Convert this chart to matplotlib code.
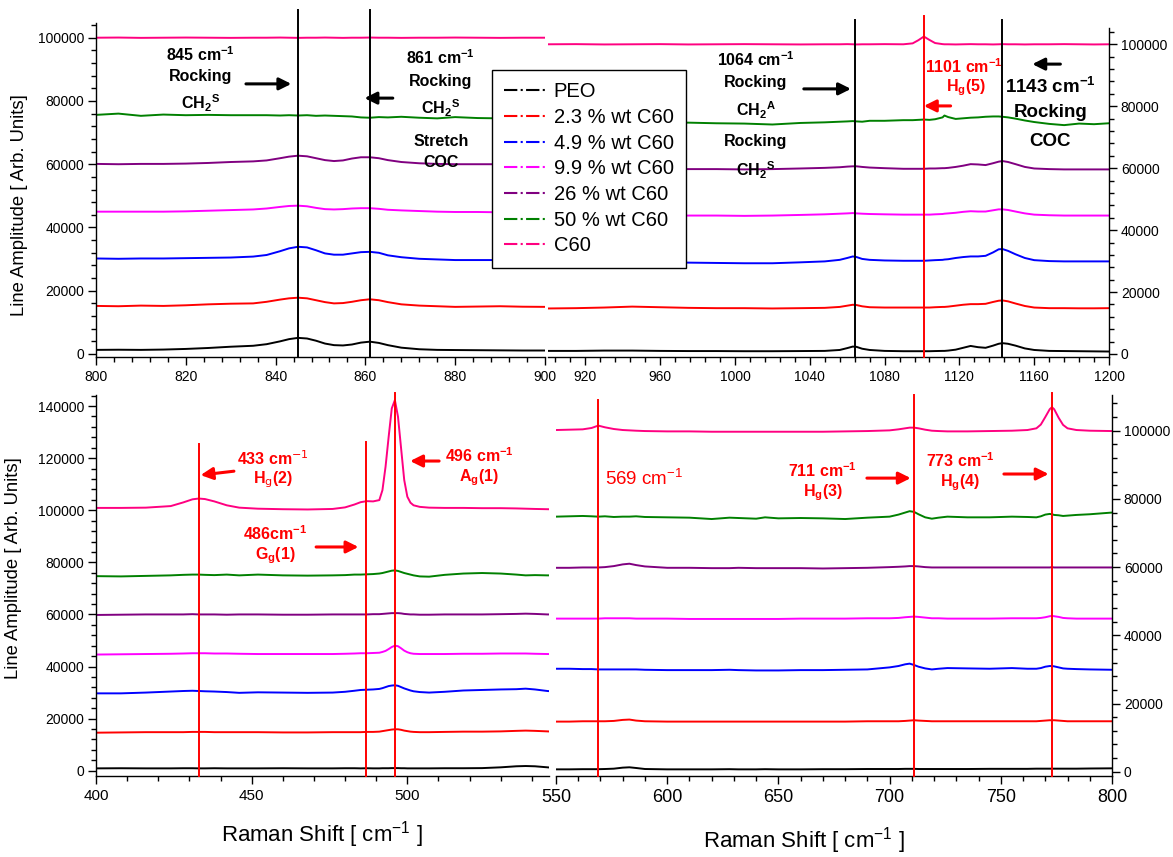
import matplotlib
matplotlib.use('Agg')
import matplotlib.pyplot as plt
from matplotlib.lines import Line2D
from matplotlib.ticker import MultipleLocator

plt.rcParams['font.family'] = ['Liberation Sans', 'DejaVu Sans']
plt.rcParams['mathtext.fontset'] = 'custom'
plt.rcParams['mathtext.rm'] = 'Liberation Sans'
plt.rcParams['mathtext.it'] = 'Liberation Sans:italic'
plt.rcParams['mathtext.bf'] = 'Liberation Sans:bold'

samples = ['PEO', '2.3 % wt C60', '4.9 % wt C60', '9.9 % wt C60',
           '26 % wt C60', '50 % wt C60', 'C60']
colors = ['#000000', '#FF0000', '#0000FF', '#FF00FF',
          '#800080', '#008000', '#FF0080']

# 800 - 900 cm-1 window
shift_a = [800, 805, 810, 815, 820, 825, 830, 835, 838, 841, 843, 845, 847, 849, 851,
           853, 855, 857, 859, 861, 863, 865, 868, 872, 876, 880, 885, 890, 895, 900]
amp_a = [
    [1300, 1350, 1300, 1400, 1600, 1900, 2300, 2600, 3100, 4000, 4700, 5100, 4900, 4200, 3300,
     2800, 2700, 3000, 3600, 3900, 3500, 2800, 2000, 1500, 1300, 1250, 1200, 1150, 1100, 1100],
    [15200, 15100, 15300, 15200, 15400, 15700, 15900, 16000, 16500, 17200, 17600, 17800, 17600, 17000, 16400,
     16000, 16100, 16500, 17000, 17300, 17000, 16400, 15700, 15300, 15100, 14900, 15000, 15100, 14950, 14900],
    [30200, 30100, 30200, 30200, 30300, 30400, 30500, 30800, 31300, 32500, 33400, 33900, 33700, 32800, 31800,
     31400, 31400, 31800, 32200, 32300, 32000, 31200, 30600, 30100, 29900, 29700, 29700, 29700, 29700, 29700],
    [45000, 45000, 45000, 45000, 45100, 45300, 45500, 45700, 46000, 46500, 46800, 46900, 46700, 46200, 45800,
     45700, 45800, 46000, 46100, 46100, 45900, 45600, 45400, 45200, 45000, 44900, 44900, 44800, 44800, 44800],
    [60100, 60000, 60100, 60100, 60200, 60400, 60700, 60900, 61200, 61900, 62400, 62700, 62500, 61900, 61300,
     61000, 61200, 61800, 62200, 62200, 61900, 61300, 60700, 60300, 60100, 60000, 60000, 60000, 60000, 60000],
    [75600, 76000, 75300, 75700, 75500, 75600, 75500, 75500, 75500, 75400, 75500, 75400, 75500, 75300, 75400,
     75300, 75200, 75100, 74800, 74700, 74900, 74800, 75000, 74700, 74500, 74900, 74600, 74500, 74700, 74600],
    [100000, 100050, 99950, 100000, 100050, 100000, 99950, 100000, 100000, 100050, 100000, 99950, 100000, 100000, 100050,
     100000, 99950, 100000, 100000, 100050, 100000, 100000, 99950, 100000, 100000, 100050, 100000, 99950, 100000, 100000],
]

# 900 - 1200 cm-1 window
shift_b = [900, 915, 930, 945, 960, 975, 990, 1005, 1020, 1035, 1048, 1056, 1060, 1063, 1065,
           1068, 1072, 1080, 1090, 1095, 1098, 1101, 1104, 1107, 1111, 1112, 1114, 1118, 1122, 1126,
           1130, 1134, 1138, 1141, 1143, 1146, 1150, 1155, 1160, 1168, 1176, 1184, 1192, 1200]
amp_b = [
    [1000, 1000, 1100, 1100, 1000, 950, 950, 900, 900, 950, 1000, 1300, 1900, 2400, 2300,
     1700, 1300, 1000, 900, 900, 900, 900, 900, 950, 1000, 1000, 1100, 1400, 2000, 2600,
     2200, 2000, 2700, 3300, 3500, 3300, 2700, 1800, 1300, 1000, 950, 900, 850, 800],
    [14700, 14800, 15000, 15300, 15100, 14900, 14800, 14800, 14700, 14800, 14900, 15200, 15600, 15900, 15800,
     15400, 15100, 15000, 15000, 15000, 15000, 15000, 15000, 15100, 15200, 15200, 15300, 15600, 15900, 16100,
     16100, 16200, 16800, 17200, 17300, 17000, 16300, 15500, 15000, 14800, 14800, 14750, 14750, 14800],
    [29900, 29900, 29800, 29700, 29600, 29500, 29400, 29300, 29300, 29600, 29900, 30400, 31000, 31500, 31300,
     30700, 30400, 30200, 30100, 30100, 30100, 30100, 30200, 30300, 30400, 30500, 30600, 31000, 31300, 31500,
     31500, 31700, 32800, 33800, 33900, 33300, 32200, 31000, 30300, 30000, 29900, 29900, 29900, 29900],
    [45000, 45000, 44900, 44800, 44700, 44700, 44700, 44600, 44700, 44900, 45100, 45300, 45400, 45500, 45400,
     45300, 45200, 45100, 45000, 45000, 45000, 45000, 45000, 45100, 45200, 45300, 45400, 45600, 45900, 46100,
     46000, 46000, 46400, 46700, 46700, 46500, 46000, 45400, 45000, 44800, 44700, 44700, 44700, 44700],
    [60100, 60100, 60000, 59900, 59800, 59700, 59700, 59600, 59700, 59900, 60100, 60300, 60500, 60600, 60600,
     60400, 60200, 60000, 59800, 59800, 59800, 59800, 59900, 59900, 60000, 60000, 60100, 60400, 60800, 61300,
     61200, 61000, 61600, 62100, 62300, 62000, 61300, 60400, 59900, 59700, 59600, 59600, 59600, 59600],
    [75200, 74800, 74900, 74700, 74600, 74700, 74500, 74400, 74100, 74600, 74800, 75000, 75100, 75200, 75100,
     75000, 75300, 75300, 75500, 75500, 75600, 75700, 75600, 75800, 76400, 77000, 76500, 75900, 76100, 76300,
     76400, 76600, 76700, 76700, 76600, 76400, 76000, 75400, 74900, 74300, 73900, 74400, 74200, 74500],
    [100000, 100050, 99950, 100000, 100050, 99950, 100000, 100050, 100000, 99950, 100000, 100000, 100050, 100000, 99950,
     100000, 100000, 100050, 100000, 100300, 101300, 102500, 101400, 100400, 100050, 100000, 100000, 99950, 100000, 100050,
     100000, 100000, 99950, 100000, 100050, 100000, 100000, 99950, 100000, 100000, 100050, 100000, 99950, 100000],
]

# 400 - 550 cm-1 window
shift_c = [400, 408, 416, 424, 428, 431, 433, 435, 438, 442, 446, 452, 460, 468, 476,
           480, 483, 485, 487, 489, 491, 492, 493, 494, 495, 496, 497, 498, 499, 500,
           501, 502, 504, 507, 512, 518, 524, 530, 535, 538, 541, 545, 550]
amp_c = [
    [900, 950, 900, 900, 950, 950, 900, 900, 950, 900, 900, 900, 950, 900, 900,
     950, 950, 900, 950, 900, 900, 950, 950, 950, 1000, 1000, 1000, 950, 950, 900,
     900, 900, 900, 900, 950, 950, 1000, 1300, 1700, 1800, 1700, 1300, 800],
    [14600, 14700, 14800, 14800, 14800, 14900, 14900, 14900, 14800, 14800, 14800, 14800, 14700, 14700, 14800,
     14800, 14800, 14800, 14900, 14900, 15000, 15200, 15400, 15600, 15800, 15900, 15900, 15700, 15400, 15200,
     15000, 14900, 14800, 14800, 14900, 15000, 15000, 15100, 15300, 15400, 15300, 15100, 14800],
    [29700, 29700, 30000, 30400, 30600, 30700, 30600, 30500, 30400, 30200, 29900, 30100, 30000, 29900, 30000,
     30300, 30700, 31000, 31100, 31200, 31400, 31700, 32100, 32500, 32700, 32800, 32600, 32100, 31600, 31200,
     30800, 30500, 30200, 30000, 30300, 30800, 31000, 31200, 31300, 31500, 31200, 30600, 30200],
    [44600, 44700, 44800, 44900, 45000, 45100, 45100, 45100, 45000, 45000, 44900, 44800, 44800, 44800, 44800,
     44900, 45000, 45100, 45100, 45200, 45300, 45600, 46000, 46700, 47500, 48000, 47800, 47000, 46100, 45500,
     45100, 44900, 44800, 44800, 44800, 44900, 44900, 45000, 45000, 45000, 44900, 44800, 44700],
    [59800, 59900, 60000, 60000, 60000, 60100, 60000, 60000, 60000, 59900, 60000, 60000, 59900, 59900, 60000,
     60000, 60000, 60000, 60000, 60100, 60100, 60200, 60300, 60400, 60500, 60500, 60500, 60400, 60200, 60100,
     60000, 60000, 59900, 59900, 60000, 60000, 60000, 60100, 60200, 60300, 60200, 60000, 60000],
    [74700, 74600, 74800, 75000, 75200, 75300, 75300, 75200, 75100, 75300, 75000, 75300, 75000, 74900, 75000,
     75100, 75300, 75300, 75400, 75500, 75700, 75900, 76200, 76500, 76800, 76900, 76700, 76300, 75900, 75600,
     75300, 75000, 74600, 74500, 75200, 75700, 75900, 75700, 75300, 75000, 75100, 75000, 75000],
    [100900, 100900, 101000, 101600, 103000, 104200, 104500, 104300, 103400, 101900, 101000, 100600, 100400, 100300, 100500,
     101100, 102200, 103100, 103500, 103400, 103900, 107700, 116700, 128200, 139100, 142300, 135900, 123700, 111600, 105200,
     102900, 101900, 101300, 101000, 100900, 100900, 100800, 100800, 100700, 100600, 100500, 100400, 100300],
]

# 550 - 800 cm-1 window
shift_d = [550, 556, 562, 566, 569, 572, 576, 580, 583, 586, 590, 600, 610, 620, 628,
           632, 640, 644, 650, 660, 670, 680, 690, 700, 704, 707, 709, 711, 713, 716,
           719, 722, 726, 735, 745, 755, 762, 766, 768, 770, 772, 773, 774, 776, 778,
           780, 784, 790, 800]
amp_d = [
    [700, 700, 750, 750, 750, 800, 900, 1200, 1300, 1100, 800, 700, 700, 700, 750,
     700, 700, 750, 700, 700, 750, 750, 800, 800, 800, 850, 850, 850, 800, 800,
     800, 800, 800, 800, 850, 850, 850, 900, 900, 900, 900, 900, 900, 900, 900,
     900, 900, 950, 1000],
    [14700, 14700, 14800, 14800, 14800, 14800, 14900, 15200, 15300, 15000, 14800, 14700, 14700, 14700, 14700,
     14700, 14700, 14700, 14700, 14700, 14700, 14700, 14800, 14800, 14800, 14900, 15000, 15100, 15000, 14900,
     14800, 14800, 14800, 14800, 14800, 14800, 14800, 14800, 14900, 15000, 15100, 15100, 15100, 15000, 14900,
     14800, 14800, 14800, 14800],
    [30200, 30200, 30100, 30100, 30000, 30000, 30000, 30000, 30000, 30000, 29900, 29800, 29800, 29800, 29900,
     29800, 29700, 29700, 29700, 29800, 29800, 29900, 30000, 30600, 31000, 31500, 31700, 31300, 30800, 30300,
     30000, 30200, 30400, 30300, 30200, 30400, 30200, 30200, 30400, 30800, 31000, 31000, 30900, 30600, 30300,
     30200, 30100, 30000, 29900],
    [44900, 44900, 44900, 44900, 44900, 45000, 45000, 45000, 45000, 44900, 44900, 44900, 44800, 44800, 44800,
     44800, 44800, 44800, 44800, 44900, 44900, 44900, 45000, 45000, 45100, 45300, 45400, 45500, 45400, 45200,
     45000, 45000, 44900, 44900, 44900, 45000, 45000, 45000, 45100, 45300, 45600, 45700, 45600, 45400, 45100,
     45000, 44900, 44900, 44900],
    [59800, 59800, 59900, 59900, 59900, 60000, 60300, 60800, 61000, 60600, 60200, 59800, 59800, 59700, 59700,
     59800, 59700, 59700, 59700, 59700, 59600, 59700, 59800, 60000, 60100, 60200, 60300, 60300, 60200, 60000,
     59900, 59900, 59900, 59900, 59900, 59900, 59900, 59900, 59900, 59900, 59900, 60000, 59900, 59900, 59900,
     59900, 59900, 59900, 59900],
    [74800, 74900, 75000, 74900, 74800, 74900, 74700, 74800, 74800, 74900, 74700, 74600, 74500, 74100, 74500,
     74400, 74200, 74600, 74300, 74400, 74300, 74100, 74500, 74800, 75400, 76000, 76400, 76200, 75500, 74600,
     74200, 74500, 74800, 74600, 74600, 74800, 74700, 74600, 74900, 75400, 75600, 75500, 75300, 75200, 75000,
     75100, 75300, 75500, 76000],
    [100200, 100300, 100400, 100800, 101500, 101000, 100500, 100200, 100100, 100000, 99900, 99800, 99800, 99700, 99700,
     99700, 99700, 99700, 99700, 99700, 99700, 99800, 99900, 100100, 100400, 100700, 100900, 100900, 100700, 100300,
     100000, 99900, 99800, 99800, 99900, 100000, 100200, 100700, 101800, 104000, 106300, 106900, 106300, 103800, 101700,
     100700, 100200, 100000, 99900],
]

W, H = 1173, 857
fig = plt.figure(figsize=(W / 100, H / 100), dpi=100)


def add_axes_px(l, t, r, b):
    return fig.add_axes([l / W, 1 - b / H, (r - l) / W, (b - t) / H])


def style(ax, right=False, xsize=10):
    ax.spines['top'].set_visible(False)
    if right:
        ax.spines['left'].set_visible(False)
        ax.yaxis.tick_right()
    else:
        ax.spines['right'].set_visible(False)
    for s in ax.spines.values():
        s.set_linewidth(1.0)
    ax.tick_params(which='major', direction='out', length=6, width=1, labelsize=10, pad=2.5)
    ax.tick_params(which='minor', direction='out', length=3.5, width=1)
    ax.tick_params(axis='x', which='major', labelsize=xsize, pad=3.5)
    ax.yaxis.set_major_locator(MultipleLocator(20000))
    ax.yaxis.set_minor_locator(MultipleLocator(4000))
    ax.patch.set_alpha(0)


def draw(ax, shift, amp):
    for a, c in zip(amp, colors):
        ax.plot(shift, a, color=c, lw=1.4)


def vline(ax, x, top, color, lw=1.4):
    lo = ax.get_ylim()[0]
    ax.plot([x, x], [lo, top], color=color, lw=lw, clip_on=False, zorder=3)


def label(ax, x, y, s, color='k', size=11.5, weight='bold', ha='center'):
    ax.text(x, y, s, color=color, fontsize=size, fontweight=weight,
            ha=ha, va='center', clip_on=False)


def arrow(ax, x0, y0, x1, y1, color='k'):
    ax.annotate('', xy=(x1, y1), xytext=(x0, y0), annotation_clip=False,
                arrowprops=dict(arrowstyle='-|>', color=color, lw=2.2,
                                mutation_scale=18, shrinkA=0, shrinkB=0))


cm = r'$^{\mathbf{-1}}$'
ch2s = r'CH$_\mathbf{2}$$^\mathbf{S}$'
ch2a = r'CH$_\mathbf{2}$$^\mathbf{A}$'

# top left: 800 - 900
ax1 = add_axes_px(96, 23, 545, 357)
draw(ax1, shift_a, amp_a)
ax1.set_xlim(800, 900)
ax1.set_ylim(-950, 104650)
ax1.xaxis.set_major_locator(MultipleLocator(20))
ax1.xaxis.set_minor_locator(MultipleLocator(4))
style(ax1)
for x in (845, 861):
    vline(ax1, x, 108800, 'k')
label(ax1, 823.2, 94500, '845 cm' + cm)
label(ax1, 823.2, 87600, 'Rocking')
label(ax1, 823.2, 79400, ch2s)
arrow(ax1, 833.4, 85400, 843.5, 85400)
label(ax1, 876.8, 93600, '861 cm' + cm)
label(ax1, 876.8, 86300, 'Rocking')
label(ax1, 876.8, 77800, ch2s)
label(ax1, 876.8, 67300, 'Stretch')
label(ax1, 876.8, 60700, 'COC')
arrow(ax1, 866.1, 80900, 859.8, 80900)

# top right: 900 - 1200
ax2 = add_axes_px(548, 28, 1109, 357)
draw(ax2, shift_b, amp_b)
ax2.set_xlim(900, 1200)
ax2.set_ylim(-970, 105260)
ax2.xaxis.set_major_locator(MultipleLocator(40))
ax2.xaxis.set_minor_locator(MultipleLocator(8))
style(ax2, right=True)
ax2.set_xticks([920, 960, 1000, 1040, 1080, 1120, 1160, 1200])
for x in (1064, 1143):
    vline(ax2, x, 108000, 'k')
vline(ax2, 1101, 109000, 'r')
label(ax2, 1011.1, 94900, '1064 cm' + cm)
label(ax2, 1011.1, 87800, 'Rocking')
label(ax2, 1011.1, 78800, ch2a)
label(ax2, 1011.1, 68500, 'Rocking')
label(ax2, 1011.1, 59400, ch2s)
arrow(ax2, 1036.8, 85600, 1062.0, 85600)
label(ax2, 1122.2, 92700, '1101 cm' + cm, color='r')
label(ax2, 1123.3, 85900, r'H$_\mathbf{g}$(5)', color='r')
arrow(ax2, 1115.3, 80100, 1101.0, 80100, color='r')
label(ax2, 1168.7, 86200, '1143 cm' + cm, size=13.5)
label(ax2, 1168.7, 78100, 'Rocking', size=13.5)
label(ax2, 1168.7, 68500, 'COC', size=13.5)
arrow(ax2, 1174, 93600, 1159, 93600)

# bottom left: 400 - 550
ax3 = add_axes_px(96, 395, 549, 776)
draw(ax3, shift_c, amp_c)
ax3.set_xlim(400, 545.5)
ax3.set_ylim(-2030, 144250)
ax3.xaxis.set_major_locator(MultipleLocator(50))
ax3.xaxis.set_minor_locator(MultipleLocator(10))
style(ax3, xsize=11)
vline(ax3, 433, 125400, 'r')
vline(ax3, 486.7, 126200, 'r')
vline(ax3, 496, 145000, 'r')
label(ax3, 456.9, 119700, '433 cm' + r'$^{\mathsf{-1}}$', color='r')
label(ax3, 456.9, 111600, r'H$_\mathsf{g}$(2)', color='r')
arrow(ax3, 444.3, 115000, 433.6, 113500, color='r')
label(ax3, 523.0, 120800, '496 cm' + cm, color='r')
label(ax3, 523.0, 112400, r'A$_\mathbf{g}$(1)', color='r')
arrow(ax3, 510.2, 118900, 500.9, 118900, color='r')
label(ax3, 457.5, 90900, '486cm' + cm, color='r')
label(ax3, 457.5, 82400, r'G$_\mathbf{g}$(1)', color='r')
arrow(ax3, 470.7, 85900, 484.3, 85900, color='r')

# bottom right: 550 - 800
ax4 = add_axes_px(556, 395, 1112, 776)
draw(ax4, shift_d, amp_d)
ax4.set_xlim(550, 800)
ax4.set_ylim(-1250, 110470)
ax4.xaxis.set_major_locator(MultipleLocator(50))
ax4.xaxis.set_minor_locator(MultipleLocator(10))
style(ax4, right=True, xsize=13)
vline(ax4, 569, 109000, 'r')
vline(ax4, 711, 110500, 'r')
vline(ax4, 773, 111000, 'r')
label(ax4, 572.0, 85800, r'569 cm$^{-1}$', color='r', size=13.5, weight='normal', ha='left')
label(ax4, 670.0, 88200, '711 cm' + cm, color='r')
label(ax4, 670.0, 81700, r'H$_\mathbf{g}$(3)', color='r')
arrow(ax4, 689.8, 86100, 709.5, 86100, color='r')
label(ax4, 731.7, 91100, '773 cm' + cm, color='r')
label(ax4, 731.7, 84700, r'H$_\mathbf{g}$(4)', color='r')
arrow(ax4, 751.4, 87300, 771.5, 87300, color='r')

# axis titles
fig.text(20 / W, 1 - 205 / H, 'Line Amplitude [ Arb. Units]', rotation=90,
         ha='center', va='center', fontsize=13.3)
fig.text(14 / W, 1 - 568 / H, 'Line Amplitude [ Arb. Units]', rotation=90,
         ha='center', va='center', fontsize=13.3)
fig.text(322 / W, 1 - 842 / H, r'Raman Shift [ cm$^{-1}$ ]', ha='center',
         va='baseline', fontsize=16)
fig.text(804 / W, 1 - 848 / H, r'Raman Shift [ cm$^{-1}$ ]', ha='center',
         va='baseline', fontsize=16)

handles = [Line2D([], [], color=c, lw=1.5, ls='-.') for c in colors]
leg = fig.legend(handles, samples, loc='upper left',
                 bbox_to_anchor=(492 / W, 1 - 70 / H), borderaxespad=0,
                 frameon=True, fancybox=False, edgecolor='k', framealpha=1,
                 fontsize=14.5, handlelength=2.15, handletextpad=0.3,
                 labelspacing=0.33, borderpad=0.62)
leg.get_frame().set_linewidth(1.0)
leg.set_zorder(10)

fig.savefig('out.png', dpi=100)
